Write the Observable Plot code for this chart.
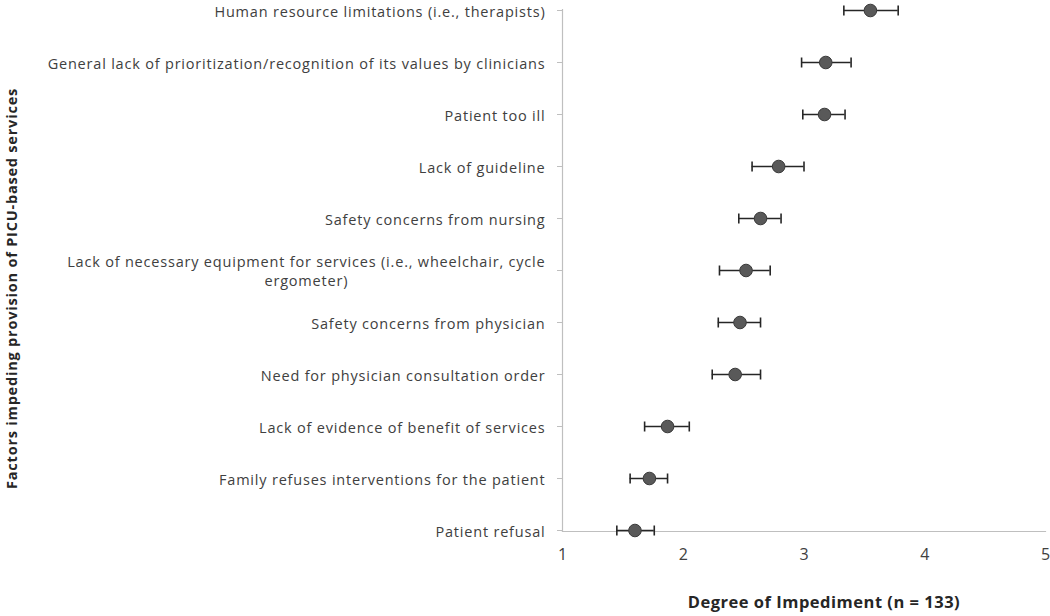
<!DOCTYPE html>
<html>
<head>
<meta charset="utf-8">
<script src="https://cdn.jsdelivr.net/npm/d3@7"></script>
<script src="https://cdn.jsdelivr.net/npm/@observablehq/plot@0.6"></script>
<style>
  html, body { margin: 0; padding: 0; background: #fff; }
  #chart { width: 1050px; height: 616px; }
  #chart svg g[aria-label="y-axis tick label"] text { letter-spacing: 0.8px; }
  #chart svg text.ytitle { letter-spacing: 0.8px; }
  #chart svg text.xtitle { letter-spacing: 0.5px; }
</style>
</head>
<body>
<div id="chart"></div>
<script>
// Categories, top to bottom
const categories = [
  "Human resource limitations (i.e., therapists)",
  "General lack of prioritization/recognition of its values by clinicians",
  "Patient too ill",
  "Lack of guideline",
  "Safety concerns from nursing",
  "Lack of necessary equipment for services (i.e., wheelchair, cycle ergometer)",
  "Safety concerns from physician",
  "Need for physician consultation order",
  "Lack of evidence of benefit of services",
  "Family refuses interventions for the patient",
  "Patient refusal"
];
const tickLabels = [
  "Human resource limitations (i.e., therapists)",
  "General lack of prioritization/recognition of its values by clinicians",
  "Patient too ill",
  "Lack of guideline",
  "Safety concerns from nursing",
  "Lack of necessary equipment for services (i.e., wheelchair, cycle\nergometer)",
  "Safety concerns from physician",
  "Need for physician consultation order",
  "Lack of evidence of benefit of services",
  "Family refuses interventions for the patient",
  "Patient refusal"
];
const means = [3.55, 3.18, 3.17, 2.79, 2.64, 2.52, 2.47, 2.43, 1.87, 1.72, 1.60];
const lower = [3.33, 2.98, 2.99, 2.57, 2.46, 2.30, 2.29, 2.24, 1.68, 1.56, 1.45];
const upper = [3.78, 3.39, 3.34, 3.00, 2.81, 2.72, 2.64, 2.64, 2.05, 1.87, 1.76];
const xTicks = [1, 2, 3, 4, 5];
const xTitle = "Degree of Impediment (n = 133)";
const yTitle = "Factors impeding provision of PICU-based services";

const rows = categories.map((c, i) => ({cat: c, mean: means[i], lo: lower[i], hi: upper[i]}));

// vertical cap symbol for the error bars
const capSymbol = {
  draw(context, size) {
    const h = 5;
    context.moveTo(0, -h);
    context.lineTo(0, h);
  }
};

const chart = Plot.plot({
  width: 1050,
  height: 616,
  marginLeft: 562,
  marginRight: 5,
  marginTop: 9,
  marginBottom: 85,
  style: {fontFamily: "'Open Sans', Lato, sans-serif", fontSize: "14.5px", background: "#fff", color: "#404040"},
  x: {domain: [1, 5]},
  y: {type: "point", domain: categories, padding: 0},
  marks: [
    Plot.frame({anchor: "left", stroke: "#bfbfbf", strokeWidth: 1.2}),
    Plot.frame({anchor: "bottom", stroke: "#bfbfbf", strokeWidth: 1.2}),
    Plot.axisX({ticks: xTicks, tickFormat: d3.format("d"), tickSize: 0, tickPadding: 17, label: null, fontSize: 16, fill: "#404040"}),
    Plot.axisY({tickSize: 5, tickFormat: () => "", label: null, stroke: "#bfbfbf"}),
    Plot.axisY({tickSize: 0, tickPadding: 17, label: null, fill: "#404040", lineHeight: 1.3,
      tickFormat: d => tickLabels[categories.indexOf(d)]}),
    Plot.ruleY(rows, {y: "cat", x1: "lo", x2: "hi", stroke: "#262626", strokeWidth: 1.6}),
    Plot.dot(rows, {x: "lo", y: "cat", symbol: capSymbol, fill: "none", stroke: "#262626", strokeWidth: 1.6}),
    Plot.dot(rows, {x: "hi", y: "cat", symbol: capSymbol, fill: "none", stroke: "#262626", strokeWidth: 1.6}),
    Plot.dot(rows, {x: "mean", y: "cat", r: 6.3, fill: "#595959", stroke: "#3a3a3a", strokeWidth: 1}),
    Plot.text([xTitle], {frameAnchor: "bottom", textAnchor: "middle", dy: 76, dx: 20, fontWeight: "bold", fontSize: 16.5, fill: "#262626", className: "xt"}),
    Plot.text([yTitle], {frameAnchor: "left", textAnchor: "middle", rotate: -90, dx: -550, dy: 18, fontWeight: "bold", fontSize: 14.5, fill: "#262626", className: "yt"})
  ]
});
document.getElementById("chart").appendChild(chart);

chart.querySelectorAll("text").forEach(t => {
  if (t.textContent === yTitle) t.classList.add("ytitle");
  if (t.textContent === xTitle) t.classList.add("xtitle");
});

// Center wrapped tick label lines against each other (as the original does)
chart.querySelectorAll("text").forEach(t => {
  const spans = t.querySelectorAll("tspan");
  if (spans.length > 1) {
    const w = Math.max(...Array.from(spans, s => s.getComputedTextLength()));
    t.setAttribute("text-anchor", "middle");
    spans.forEach(s => s.setAttribute("x", -w / 2));
  }
});
</script>
</body>
</html>
